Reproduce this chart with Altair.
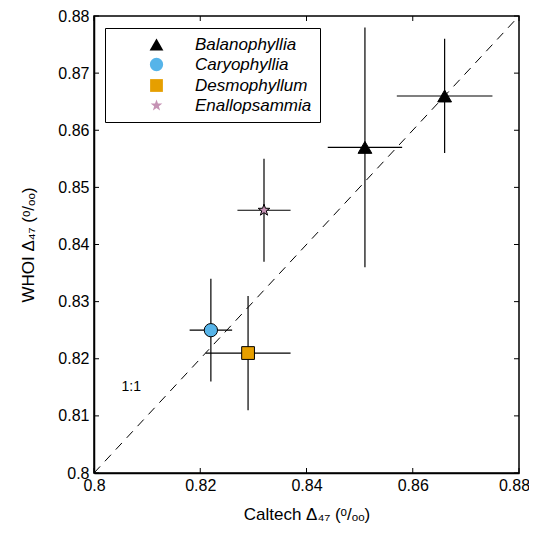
import altair as alt
import pandas as pd

# ---- data ----
species = ["Balanophyllia", "Balanophyllia", "Caryophyllia", "Desmophyllum", "Enallopsammia"]
caltech = [0.851, 0.866, 0.822, 0.829, 0.832]
caltech_lo = [0.844, 0.857, 0.818, 0.821, 0.827]
caltech_hi = [0.858, 0.875, 0.826, 0.837, 0.837]
whoi = [0.857, 0.866, 0.825, 0.821, 0.846]
whoi_lo = [0.836, 0.856, 0.816, 0.811, 0.837]
whoi_hi = [0.878, 0.876, 0.834, 0.831, 0.855]

legend_order = ["Balanophyllia", "Caryophyllia", "Desmophyllum", "Enallopsammia"]
fill_colors = ["#000000", "#56B4E9", "#E69F00", "#C592B4"]
STAR = ("M0,-1L0.235,-0.324L0.951,-0.309L0.380,0.124L0.588,0.809L0,0.4"
        "L-0.588,0.809L-0.380,0.124L-0.951,-0.309L-0.235,-0.324Z")
shapes = ["triangle-up", "circle", "square", STAR]
sizes = [190, 150, 100, 380]

x_ticks = [0.80, 0.82, 0.84, 0.86, 0.88]
y_ticks = [0.80, 0.81, 0.82, 0.83, 0.84, 0.85, 0.86, 0.87, 0.88]
one_to_one = [0.80, 0.88]
label_11 = ["1:1"]
label_11_x = [0.807]
label_11_y = [0.815]

W, H = 425, 457
FONT = "Liberation Sans"

df = pd.DataFrame({
    "species": species, "x": caltech, "xlo": caltech_lo, "xhi": caltech_hi,
    "y": whoi, "ylo": whoi_lo, "yhi": whoi_hi,
})
line_df = pd.DataFrame({"x": one_to_one, "y": one_to_one})
xt_df = pd.DataFrame({"v": x_ticks})
yt_df = pd.DataFrame({"v": y_ticks})
lab_df = pd.DataFrame({"t": label_11, "x": label_11_x, "y": label_11_y})

xscale = alt.Scale(domain=[0.80, 0.88], nice=False, zero=False)
yscale = alt.Scale(domain=[0.80, 0.88], nice=False, zero=False)

axis_style = dict(
    domainColor="black", domainWidth=1.5,
    labelFont=FONT, labelFontSize=16, labelColor="black",
    titleFont=FONT, titleFontSize=17, titleFontWeight="normal", titleColor="black",
)
xaxis = alt.Axis(values=x_ticks, format="~g", ticks=False, grid=False,
                 title="Caltech Δ₄₇ (ᵒ/ₒₒ)", labelPadding=4, titlePadding=13,
                 labelFlush=False,
                 labelOffset={"condition": {"test": "datum.value > 0.879", "value": -5}, "value": 0},
                 **axis_style)
yaxis = alt.Axis(values=y_ticks, format="~g", ticks=False, grid=False,
                 title="WHOI Δ₄₇ (ᵒ/ₒₒ)", labelPadding=5, titlePadding=20,
                 labelFlush=False, **axis_style)

line = alt.Chart(line_df).mark_line(color="black", strokeWidth=1, strokeDash=[9, 7]).encode(
    x=alt.X("x:Q", scale=xscale, axis=xaxis),
    y=alt.Y("y:Q", scale=yscale, axis=yaxis),
)

hbar = alt.Chart(df).mark_rule(color="black", strokeWidth=1.2).encode(
    x=alt.X("xlo:Q", scale=xscale), x2="xhi:Q", y=alt.Y("y:Q", scale=yscale))
vbar = alt.Chart(df).mark_rule(color="black", strokeWidth=1.2).encode(
    x=alt.X("x:Q", scale=xscale), y=alt.Y("ylo:Q", scale=yscale), y2="yhi:Q")

legend = alt.Legend(
    title=None, orient="none", legendX=11, legendY=12,
    strokeColor="black", fillColor="white", padding=8,
    labelFont=FONT, labelFontSize=17, labelFontStyle="italic", labelColor="black",
    symbolOffset=35, labelOffset=30, rowPadding=2,
    symbolStrokeColor="black", symbolStrokeWidth=1,
)

points = alt.Chart(df).mark_point(filled=True, stroke="black", strokeWidth=1, opacity=1).encode(
    x=alt.X("x:Q", scale=xscale),
    y=alt.Y("y:Q", scale=yscale),
    fill=alt.Fill("species:N", scale=alt.Scale(domain=legend_order, range=fill_colors), legend=legend),
    shape=alt.Shape("species:N", scale=alt.Scale(domain=legend_order, range=shapes), legend=legend),
    size=alt.Size("species:N", scale=alt.Scale(domain=legend_order, range=sizes), legend=legend),
)

text11 = alt.Chart(lab_df).mark_text(font=FONT, fontSize=14, color="black").encode(
    x=alt.X("x:Q", scale=xscale), y=alt.Y("y:Q", scale=yscale), text="t:N")

tk = dict(color="black", strokeWidth=1)
xt_bottom = alt.Chart(xt_df).mark_rule(**tk).encode(
    x=alt.X("v:Q", scale=xscale), y=alt.value(H), y2=alt.value(H - 5))
xt_top = alt.Chart(xt_df).mark_rule(**tk).encode(
    x=alt.X("v:Q", scale=xscale), y=alt.value(0), y2=alt.value(5))
yt_left = alt.Chart(yt_df).mark_rule(**tk).encode(
    y=alt.Y("v:Q", scale=yscale), x=alt.value(0), x2=alt.value(5))
yt_right = alt.Chart(yt_df).mark_rule(**tk).encode(
    y=alt.Y("v:Q", scale=yscale), x=alt.value(W), x2=alt.value(W - 5))

chart = alt.layer(
    line, hbar, vbar, xt_bottom, xt_top, yt_left, yt_right, text11, points
).properties(
    width=W, height=H,
    background="white",
    autosize=alt.AutoSizeParams(type="none"),
    padding={"left": 86, "top": 8, "right": 10, "bottom": 54},
).configure_view(
    stroke="black", strokeWidth=1.5
)

chart.save("out.html", embed_options={"renderer": "svg", "actions": False})
